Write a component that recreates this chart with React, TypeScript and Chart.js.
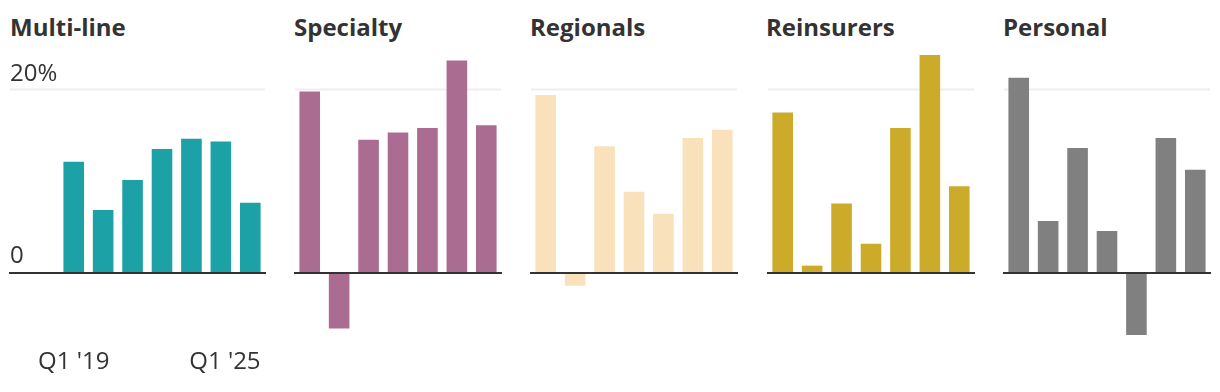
import React, { useEffect, useRef } from 'react';
import { Chart, registerables } from 'chart.js';

Chart.register(...registerables);

// ---- Data ----
const quarters = ["Q1 '19", "Q1 '20", "Q1 '21", "Q1 '22", "Q1 '23", "Q1 '24", "Q1 '25"];
const multiLine = [12.1, 6.8, 10.1, 13.5, 14.6, 14.3, 7.6];
const specialty = [19.8, -6.2, 14.5, 15.3, 15.8, 23.2, 16.1];
const regionals = [19.4, -1.5, 13.8, 8.8, 6.4, 14.7, 15.6];
const reinsurers = [17.5, 0.7, 7.5, 3.1, 15.8, 23.8, 9.4];
const personal = [21.3, 5.6, 13.6, 4.5, -6.9, 14.7, 11.2];

const yTickValues = [20, 0];
const yTickLabels = ['20%', '0'];
const xTickLabels = ["Q1 '19", "Q1 '25"];

const Y_MIN = -8;
const Y_MAX = 25;
const GRID_VALUE = 20;

const TEXT_COLOR = '#333333';
const FONT = '"Open Sans", "Noto Sans", sans-serif';

const refLines = {
  id: 'refLines',
  beforeDatasetsDraw(chart: any, _args: any, opts: any) {
    const { ctx, chartArea, scales } = chart;
    const y = scales.y;
    const gy = y.getPixelForValue(GRID_VALUE);
    ctx.save();
    ctx.strokeStyle = '#eeeeee';
    ctx.lineWidth = 2;
    ctx.beginPath();
    ctx.moveTo(chartArea.left + (opts.lineStart || 0), gy);
    ctx.lineTo(chartArea.right, gy);
    ctx.stroke();
    ctx.restore();
  },
  afterDatasetsDraw(chart: any, _args: any, opts: any) {
    const { ctx, chartArea, scales } = chart;
    const y = scales.y;
    const zy = y.getPixelForValue(0) + 1;
    ctx.save();
    ctx.strokeStyle = '#333333';
    ctx.lineWidth = 2;
    ctx.beginPath();
    ctx.moveTo(chartArea.left + (opts.lineStart || 0) - 1, zy);
    ctx.lineTo(chartArea.right + 1, zy);
    ctx.stroke();

    if (opts.showLabels) {
      ctx.fillStyle = TEXT_COLOR;
      ctx.font = `24px ${FONT}`;
      ctx.textBaseline = 'alphabetic';
      ctx.textAlign = 'left';
      yTickValues.forEach((v, i) => {
        const py = y.getPixelForValue(v) - 9;
        ctx.fillText(yTickLabels[i], chartArea.left + opts.lineStart, py);
      });
      const meta = chart.getDatasetMeta(0);
      const first = meta.data[0];
      const last = meta.data[meta.data.length - 1];
      const by = chartArea.bottom + 24;
      ctx.textAlign = 'center';
      ctx.fillText(xTickLabels[0], first.x, by);
      ctx.textAlign = 'right';
      ctx.fillText(xTickLabels[1], last.x + last.width / 2, by);
    }
    ctx.restore();
  },
};

type PanelProps = {
  title: string;
  values: number[];
  color: string;
  left: number;
  width: number;
  padLeft: number;
  padRight: number;
  titleLeft: number;
  showLabels?: boolean;
  lineStart?: number;
};

function Panel(p: PanelProps) {
  const ref = useRef<HTMLCanvasElement>(null);
  useEffect(() => {
    const chart = new Chart(ref.current as HTMLCanvasElement, {
      type: 'bar',
      data: {
        labels: quarters,
        datasets: [
          {
            data: p.values,
            backgroundColor: p.color,
            barPercentage: 0.7,
            categoryPercentage: 1,
            borderWidth: 0,
          },
        ],
      },
      options: {
        responsive: false,
        maintainAspectRatio: false,
        animation: false,
        devicePixelRatio: 1,
        layout: { padding: { left: p.padLeft, right: p.padRight, top: 0, bottom: 47 } },
        scales: {
          x: { display: false },
          y: { display: false, min: Y_MIN, max: Y_MAX },
        },
        plugins: {
          legend: { display: false },
          tooltip: { enabled: false },
          title: { display: false },
          // @ts-ignore
          refLines: { showLabels: !!p.showLabels, lineStart: p.lineStart || 0 },
        },
      } as any,
      plugins: [refLines as any],
    });
    return () => chart.destroy();
  }, []);
  return (
    <div style={{ position: 'absolute', left: 0, top: 0 }}>
      <div
        style={{
          position: 'absolute',
          left: p.titleLeft,
          top: 11,
          font: `bold 24px ${FONT}`,
          lineHeight: '32px',
          color: TEXT_COLOR,
          whiteSpace: 'nowrap',
        }}
      >
        {p.title}
      </div>
      <canvas
        ref={ref}
        width={p.width}
        height={348}
        style={{ position: 'absolute', left: p.left, top: 44, width: p.width, height: 348 }}
      />
    </div>
  );
}

export default function App() {
  return (
    <div style={{ position: 'absolute', left: 0, top: 0, width: 1220, height: 392, background: '#fff', overflow: 'hidden' }}>
      <Panel title="Multi-line" values={multiLine} color="#1ca1a6" left={9} width={257} padLeft={50} padRight={1} titleLeft={10} showLabels lineStart={-49} />
      <Panel title="Specialty" values={specialty} color="#ab6c92" left={293} width={210} padLeft={2} padRight={2} titleLeft={294} />
      <Panel title="Regionals" values={regionals} color="#f9e2bb" left={529} width={210} padLeft={2} padRight={2} titleLeft={530} />
      <Panel title="Reinsurers" values={reinsurers} color="#ccaa2a" left={766} width={210} padLeft={2} padRight={2} titleLeft={766} />
      <Panel title="Personal" values={personal} color="#808080" left={1002} width={210} padLeft={2} padRight={2} titleLeft={1003} />
    </div>
  );
}
